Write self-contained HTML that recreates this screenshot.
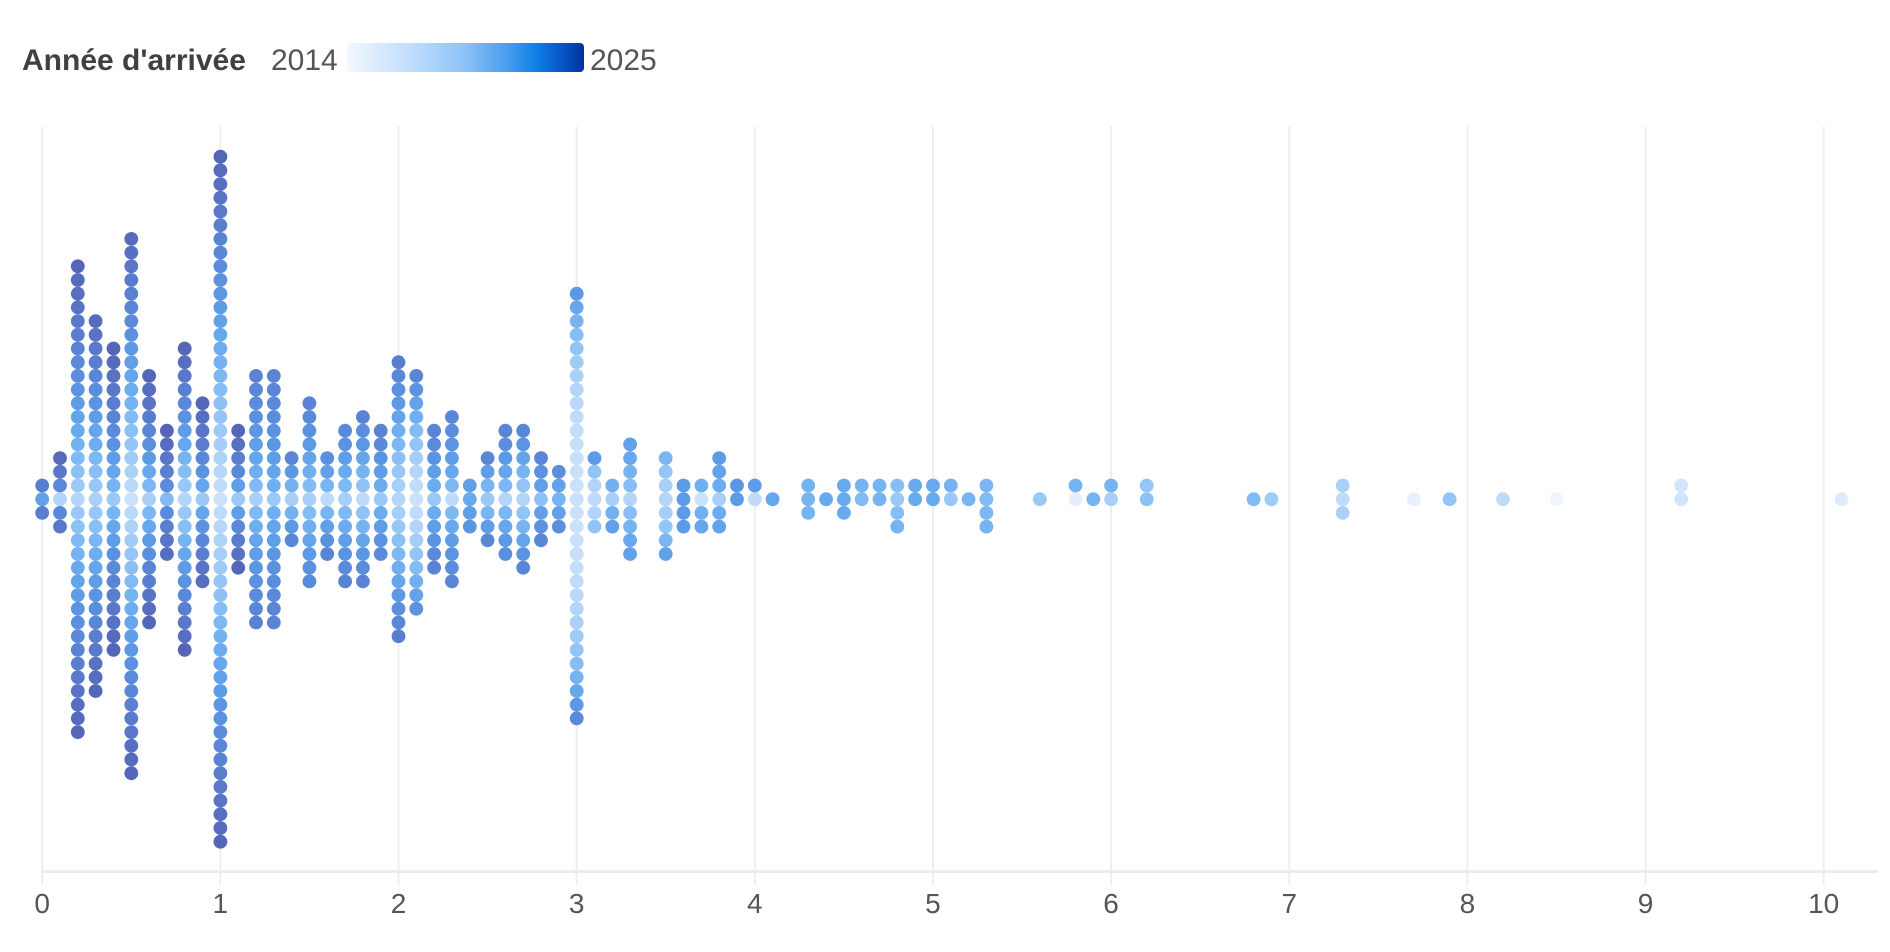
<!DOCTYPE html>
<html>
<head>
<meta charset="utf-8">
<style>
  html, body { margin: 0; padding: 0; background: #ffffff; }
  body { width: 1890px; height: 952px; overflow: hidden; }
  svg { display: block; }
  .ttl { font-family: "Liberation Sans", sans-serif; font-weight: bold; font-size: 30px; fill: #404040; }
  .lg { font-family: "Liberation Sans", sans-serif; font-size: 30px; fill: #555555; }
  .tk { font-family: "Liberation Sans", sans-serif; font-size: 28px; fill: #555555; }
</style>
</head>
<body>
<svg id="chart" xmlns="http://www.w3.org/2000/svg" width="1890" height="952" viewBox="0 0 1890 952">
  <defs>
    <linearGradient id="lgrad" x1="0" y1="0" x2="1" y2="0">
      <stop offset="0" stop-color="#f4f8ff"/>
      <stop offset="0.3" stop-color="#b9dafc"/>
      <stop offset="0.5" stop-color="#8cc2f7"/>
      <stop offset="0.7" stop-color="#3f98ee"/>
      <stop offset="0.8" stop-color="#0d7fe6"/>
      <stop offset="0.9" stop-color="#0958c8"/>
      <stop offset="1" stop-color="#0032a0"/>
    </linearGradient>
  </defs>
  <text class="ttl" x="22" y="70">Année d'arrivée</text>
  <text class="lg" x="271" y="70">2014</text>
  <rect x="347" y="43" width="237" height="29" rx="4" ry="4" fill="url(#lgrad)"/>
  <text class="lg" x="590" y="70">2025</text>
  <g id="grid"></g>
  <line x1="42" y1="871.5" x2="1878" y2="871.5" stroke="#ededed" stroke-width="3"/>
  <g id="ticks"></g>
  <g id="dots"></g>
</svg>
<script>
(function(){
  var NS = "http://www.w3.org/2000/svg";
  var X0 = 42.2, UNIT = 178.15, CY = 499.2, STEP = 13.7, R = 6.9;
  var grid = document.getElementById("grid");
  var ticks = document.getElementById("ticks");
  var dots = document.getElementById("dots");
  for (var i = 0; i <= 10; i++) {
    var x = X0 + i * UNIT;
    var l = document.createElementNS(NS, "line");
    l.setAttribute("x1", x); l.setAttribute("x2", x);
    l.setAttribute("y1", 126.5); l.setAttribute("y2", 885);
    l.setAttribute("stroke", "#eeeeee"); l.setAttribute("stroke-width", "2");
    grid.appendChild(l);
    var t = document.createElementNS(NS, "text");
    t.setAttribute("class", "tk");
    t.setAttribute("x", x); t.setAttribute("y", 913);
    t.setAttribute("text-anchor", "middle");
    t.textContent = String(i);
    ticks.appendChild(t);
  }
  var ramp = [
    [0.00, [243,246,254]],
    [0.10, [228,238,252]],
    [0.20, [203,225,251]],
    [0.30, [179,213,249]],
    [0.40, [154,200,247]],
    [0.50, [130,187,244]],
    [0.60, [104,170,238]],
    [0.70, [91,151,228]],
    [0.80, [90,134,214]],
    [0.90, [90,118,200]],
    [1.00, [85,102,184]]
  ];
  function col(v) {
    if (v < 0) v = 0;
    if (v > 1) v = 1;
    for (var i = 0; i < ramp.length - 1; i++) {
      var a = ramp[i], b = ramp[i + 1];
      if (v >= a[0] && v <= b[0]) {
        var t = (v - a[0]) / (b[0] - a[0]);
        var r = Math.round(a[1][0] + (b[1][0] - a[1][0]) * t);
        var g = Math.round(a[1][1] + (b[1][1] - a[1][1]) * t);
        var bl = Math.round(a[1][2] + (b[1][2] - a[1][2]) * t);
        return "rgb(" + r + "," + g + "," + bl + ")";
      }
    }
    return "rgb(85,102,184)";
  }
  var data = [
    [0,1,1,0.65,0.85,1],
    [0.1,3,2,0.3,0.97,0.3],
    [0.2,17,17,0.3,1,0.7],
    [0.3,13,14,0.33,1,0.8],
    [0.4,11,11,0.4,1,0.6],
    [0.5,19,20,0.2,1,0.8],
    [0.6,9,9,0.35,1,0.6],
    [0.7,5,4,0.5,1,0.4],
    [0.8,11,11,0.3,1,0.8],
    [0.9,7,6,0.4,1,0.5],
    [1.0,25,25,0.2,1,0.9],
    [1.1,5,5,0.4,1,0.5],
    [1.2,9,9,0.35,0.82,0.5],
    [1.3,9,9,0.4,0.82,0.4],
    [1.4,3,3,0.35,0.8,0.7],
    [1.5,7,6,0.35,0.82,0.6],
    [1.6,3,4,0.25,0.82,0.5],
    [1.7,5,6,0.35,0.82,0.6],
    [1.8,6,6,0.25,0.82,0.6],
    [1.9,5,4,0.4,0.82,0.5],
    [2.0,10,10,0.3,0.85,1],
    [2.1,9,8,0.2,0.8,1.2],
    [2.2,5,5,0.4,0.82,0.5],
    [2.3,6,6,0.25,0.8,0.4],
    [2.4,1,2,0.6,0.72,1],
    [2.5,3,3,0.4,0.8,1],
    [2.6,5,4,0.3,0.8,0.5],
    [2.7,5,5,0.3,0.8,0.8],
    [2.8,3,3,0.45,0.8,0.5],
    [2.9,2,2,0.55,0.75,1],
    [3.0,15,16,0.2,0.78,2.5],
    [3.1,3,2,0.25,0.68,2],
    [3.2,1,2,0.35,0.65,0.5],
    [3.3,4,4,0.3,0.65,0.5],
    [3.5,3,4,0.3,0.65,1.5],
    [3.6,1,2,0.68,0.68,1],
    [3.7,1,2,0.2,0.62,0.2],
    [3.8,3,2,0.35,0.68,0.3],
    [3.9,1,0,0.68,0.7,1],
    [4.0,1,0,0.25,0.68,1],
    [4.1,0,0,0.62,0.62,1],
    [4.3,1,1,0.55,0.55,1],
    [4.4,0,0,0.6,0.6,1],
    [4.5,1,1,0.6,0.6,1],
    [4.6,1,0,0.5,0.55,1],
    [4.7,1,0,0.55,0.55,1],
    [4.8,1,2,0.4,0.55,1],
    [4.9,1,0,0.6,0.6,1],
    [5.0,1,0,0.6,0.6,1],
    [5.1,1,0,0.4,0.55,1],
    [5.2,0,0,0.55,0.55,1],
    [5.3,1,2,0.5,0.55,1],
    [5.6,0,0,0.4,0.4,1],
    [5.8,1,0,0.1,0.55,1],
    [5.9,0,0,0.55,0.55,1],
    [6.0,1,0,0.35,0.55,1],
    [6.2,1,0,0.45,0.42,1],
    [6.8,0,0,0.5,0.5,1],
    [6.9,0,0,0.38,0.38,1],
    [7.3,1,1,0.25,0.33,1],
    [7.7,0,0,0.08,0.08,1],
    [7.9,0,0,0.42,0.42,1],
    [8.2,0,0,0.25,0.25,1],
    [8.5,0,0,0.03,0.03,1],
    [9.2,1,0,0.18,0.18,1],
    [10.1,0,0,0.12,0.12,1]
  ];
  function dot(x, y, lvl) {
    var c = document.createElementNS(NS, "circle");
    c.setAttribute("cx", x.toFixed(1));
    c.setAttribute("cy", y.toFixed(1));
    c.setAttribute("r", R);
    c.setAttribute("fill", col(lvl));
    dots.appendChild(c);
  }
  for (var n = 0; n < data.length; n++) {
    var d = data[n];
    var v = d[0], a = d[1], b = d[2], c0 = d[3], c1 = d[4], g = d[5];
    var x = X0 + v * UNIT;
    var D = Math.max(a, b);
    var lv = function(k) { return D === 0 ? c0 : c0 + (c1 - c0) * Math.pow(k / D, g); };
    dot(x, CY, lv(0));
    for (var k = 1; k <= a; k++) dot(x, CY - k * STEP, lv(k));
    for (var k2 = 1; k2 <= b; k2++) dot(x, CY + k2 * STEP, lv(k2));
  }
})();
</script>
</body>
</html>
